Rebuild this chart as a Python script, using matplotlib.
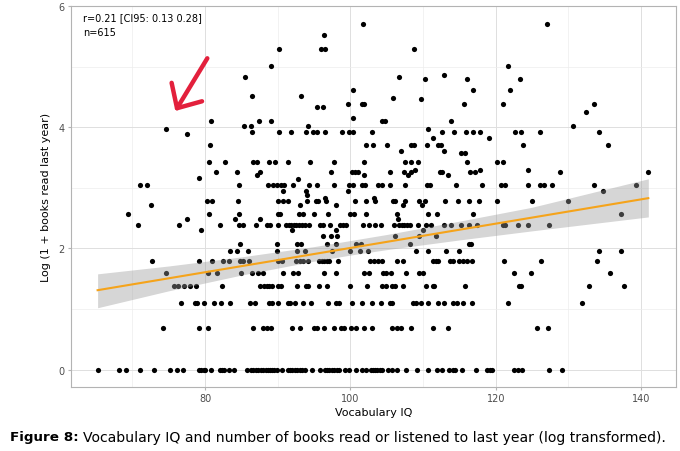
import matplotlib
matplotlib.use("Agg")
import matplotlib.pyplot as plt
from matplotlib.ticker import MultipleLocator

# Vocabulary IQ of each visible respondent, grouped by log(1 + books) level
iq_0 = [65.24, 68.18, 69.05, 71.06, 72.9, 75.1, 76.11, 77.02, 79.09, 79.45, 79.78, 80.0,
        80.78, 81.98, 82.3, 82.66, 83.35, 84.04, 85.83, 86.29, 86.56, 87.02, 87.34, 87.71,
        88.03, 88.35, 88.62, 88.9, 89.22, 89.54, 89.86, 90.55, 91.37, 91.69, 92.01, 92.38,
        92.7, 93.07, 93.39, 93.76, 94.67, 95.82, 96.51, 96.83, 97.1, 97.42, 97.79, 98.11,
        98.48, 99.26, 99.85, 100.77, 101.64, 102.1, 102.79, 103.11, 103.39, 103.71, 104.03,
        104.39, 105.22, 105.67, 106.36, 107.65, 109.2, 110.72, 111.86, 112.55, 113.56,
        114.16, 114.39, 115.3, 117.27, 118.83, 119.2, 119.52, 122.5, 123.0, 123.55, 127.31,
        129.15]
iq_069 = [74.14, 79.18, 80.37, 86.65, 87.94, 88.49, 89.08, 91.92, 93.07, 95.04, 95.36, 96.42,
          97.79, 98.66, 99.12, 100.08, 100.77, 101.83, 102.93, 105.67, 106.36, 106.96, 108.29,
          111.41, 113.38, 125.71, 127.13]
iq_110 = [76.7, 78.63, 78.95, 79.91, 81.2, 82.16, 83.44, 86.19, 86.88, 88.81, 89.17, 90.0,
          91.37, 91.69, 92.38, 93.44, 94.58, 96.87, 98.02, 98.48, 100.27, 101.64, 102.93,
          104.21, 105.45, 105.77, 108.56, 109.02, 109.66, 110.63, 112.09, 112.92, 114.16,
          114.62, 115.53, 116.72, 121.63, 131.81]
iq_138 = [75.7, 76.2, 77.12, 77.94, 78.77, 82.3, 87.57, 88.07, 88.49, 88.85, 89.22, 90.0,
          90.41, 92.61, 93.85, 94.21, 95.64, 96.83, 100.0, 102.24, 104.3, 104.85, 105.77,
          106.13, 107.28, 110.35, 111.31, 111.54, 115.76, 123.23, 123.46, 132.82, 137.7]
iq_160 = [74.6, 80.37, 81.61, 84.91, 86.42, 87.25, 87.94, 90.68, 92.15, 92.84, 96.37, 98.02,
          101.92, 102.56, 104.53, 104.85, 105.58, 107.65, 109.43, 110.03, 122.5, 124.79, 135.7]
iq_179 = [72.71, 79.18, 80.92, 82.43, 83.31, 84.82, 85.28, 85.97, 90.0, 90.55, 92.52, 93.02,
          93.53, 94.12, 95.68, 96.05, 96.42, 96.78, 97.1, 98.25, 102.74, 103.29, 103.8,
          104.39, 106.36, 107.19, 111.41, 111.77, 112.09, 113.7, 114.07, 114.89, 115.44,
          115.99, 116.68, 121.17, 126.21, 133.9]
iq_195 = [83.4, 84.45, 85.87, 89.86, 92.7, 93.8, 97.42, 100.0, 101.28, 102.38, 108.98, 110.72,
          113.15, 114.89, 134.2, 137.2]
iq_208 = [84.82, 89.86, 92.7, 93.25, 96.74, 97.97, 100.77, 101.5, 108.2, 116.36, 116.54]
iq_220 = [96.19, 97.29, 98.16, 106.18, 109.43, 111.77]
iq_231 = [79.45, 91.92, 98.02, 110.03]
iq_239 = [70.74, 76.34, 81.98, 84.68, 85.28, 87.02, 88.49, 88.9, 90.0, 91.14, 91.51, 91.83,
          92.2, 92.56, 92.93, 93.3, 93.76, 94.26, 95.87, 96.28, 97.15, 98.57, 98.98, 99.35,
          101.69, 102.56, 103.39, 104.21, 106.0, 106.73, 107.05, 107.37, 107.74, 108.2,
          109.34, 110.4, 111.04, 112.92, 113.79, 115.21, 116.36, 117.37, 120.94, 121.26,
          123.0, 124.38, 127.31]
iq_249 = [77.57, 84.18, 87.62, 106.59]
iq_257 = [69.32, 80.55, 84.73, 90.0, 90.32, 92.93, 93.44, 94.99, 96.97, 100.0, 100.54, 102.1,
          106.36, 110.72, 111.86, 116.91, 137.2]
iq_271 = [72.58, 93.11, 98.02, 107.28, 109.8]
iq_278 = [80.23, 81.01, 84.59, 90.09, 90.78, 91.37, 94.08, 95.27, 95.59, 96.65, 100.68, 102.1,
          103.39, 105.81, 106.18, 107.51, 109.48, 110.26, 113.01, 114.84, 116.36, 117.64,
          120.11, 125.02, 129.88]
iq_283 = [96.46, 103.25]
iq_288 = [94.08]
iq_294 = [90.7, 93.9, 99.6, 134.7]
iq_305 = [71.1, 72.0, 84.7, 88.7, 89.3, 89.9, 90.5, 90.9, 92.1, 94.3, 95.4, 97.7, 99.8, 100.3,
          101.6, 102.0, 103.8, 104.4, 105.4, 107.5, 110.5, 110.9, 114.5, 118.1, 120.7, 121.3,
          124.4, 126.1, 126.6, 127.8, 133.5, 139.3]
iq_314 = [92.8]
iq_317 = [79.1]
iq_322 = [87.2, 101.9, 107.9, 113.4]
iq_326 = [81.5, 84.4, 87.6, 97.3, 100.2, 100.6, 101.0, 105.5, 107.4, 108.4, 112.3, 112.6,
          116.4, 117.1, 128.8, 141.0]
iq_330 = [108.9, 117.9, 124.5]
iq_343 = [80.6, 82.7, 86.6, 87.1, 88.8, 89.6, 91.4, 94.5, 97.7, 101.9, 107.5, 108.4, 109.3,
          116.1, 120.2, 121.0]
iq_358 = [115.2, 115.8]
iq_361 = [107.0, 112.9]
iq_371 = [80.7, 102.1, 103.1, 105.0, 108.4, 108.8, 110.6, 112.1, 112.4, 123.7, 135.4]
iq_383 = [111.4, 119.1]
iq_389 = [77.5]
iq_393 = [86.5, 90.2, 91.8, 93.9, 94.9, 95.4, 96.5, 98.9, 99.8, 100.4, 103.0, 112.6, 114.2,
          115.9, 116.9, 117.9, 122.7, 123.5, 126.1, 134.2]
iq_397 = [74.6, 110.7]
iq_402 = [85.3, 86.3, 94.1, 130.7]
iq_411 = [80.8, 87.4, 89.0, 104.4, 104.8, 113.8]
iq_416 = [100.3]
iq_426 = [132.4]
iq_433 = [95.4, 96.2]
iq_439 = [99.7, 101.6, 101.8, 115.6, 121.0, 133.5]
iq_446 = [109.7]
iq_449 = [105.8]
iq_451 = [86.4, 93.2]
iq_461 = [100.3, 116.9, 121.9]
iq_479 = [110.3, 116.0, 123.3]
iq_483 = [85.5, 106.7]
iq_487 = [112.9]
iq_501 = [89.1, 121.7]
iq_530 = [90.1, 96.0, 96.5, 108.8]
iq_553 = [96.3]
iq_571 = [101.7, 127.0]

levels = [0.0, 0.69, 1.10, 1.38, 1.60, 1.79, 1.95, 2.08, 2.20, 2.31, 2.39, 2.49, 2.57, 2.71,
          2.78, 2.83, 2.88, 2.94, 3.05, 3.14, 3.17, 3.22, 3.26, 3.30, 3.43, 3.58, 3.61, 3.71,
          3.83, 3.89, 3.93, 3.97, 4.02, 4.11, 4.16, 4.26, 4.33, 4.39, 4.46, 4.49, 4.51, 4.61,
          4.79, 4.83, 4.87, 5.01, 5.30, 5.53, 5.71]
groups = [iq_0, iq_069, iq_110, iq_138, iq_160, iq_179, iq_195, iq_208, iq_220, iq_231, iq_239,
          iq_249, iq_257, iq_271, iq_278, iq_283, iq_288, iq_294, iq_305, iq_314, iq_317, iq_322,
          iq_326, iq_330, iq_343, iq_358, iq_361, iq_371, iq_383, iq_389, iq_393, iq_397, iq_402,
          iq_411, iq_416, iq_426, iq_433, iq_439, iq_446, iq_449, iq_451, iq_461, iq_479, iq_483,
          iq_487, iq_501, iq_530, iq_553, iq_571]

# linear fit and its 95% band
fit_x = [65.2, 141.0]
fit_y = [1.31, 2.83]
band_x = [65.2, 75, 85, 95, 100, 105, 115, 125, 141.0]
band_lo = [1.02, 1.30, 1.56, 1.79, 1.89, 1.98, 2.14, 2.29, 2.52]
band_hi = [1.58, 1.71, 1.86, 2.03, 2.13, 2.23, 2.45, 2.68, 3.15]

x = []
y = []
for lv, g in zip(levels, groups):
    x += g
    y += [lv] * len(g)

fig = plt.figure(figsize=(6.8, 4.52), dpi=100)
ax = fig.add_axes([0.104, 0.142, 0.890, 0.842])

ax.scatter(x, y, s=14, color="black", linewidths=0, zorder=3)
ax.fill_between(band_x, band_lo, band_hi, color="#999999", alpha=0.4, linewidth=0, zorder=4)
ax.plot(fit_x, fit_y, color="#F5A31A", lw=1.5, zorder=5)

ax.set_xlim(61.5, 144.8)
ax.set_ylim(-0.286, 6.0)
ax.xaxis.set_major_locator(MultipleLocator(20))
ax.xaxis.set_minor_locator(MultipleLocator(10))
ax.yaxis.set_major_locator(MultipleLocator(2))
ax.yaxis.set_minor_locator(MultipleLocator(1))
ax.grid(which="major", color="#DEDEDE", lw=0.7, zorder=0)
ax.grid(which="minor", color="#EDEDED", lw=0.5, zorder=0)
ax.set_axisbelow(True)
for s in ax.spines.values():
    s.set_color("#B3B3B3")
    s.set_linewidth(0.8)
ax.tick_params(which="major", length=2.5, color="#B3B3B3", labelcolor="#4D4D4D", labelsize=7, pad=2)
ax.tick_params(which="minor", length=0)

ax.set_xlabel("Vocabulary IQ", fontsize=8, labelpad=3)
ax.set_ylabel("Log (1 + books read last year)", fontsize=8, labelpad=5)

ax.text(0.02, 0.972, "r=0.21 [CI95: 0.13 0.28]", transform=ax.transAxes, fontsize=7, va="center")
ax.text(0.02, 0.933, "n=615", transform=ax.transAxes, fontsize=7, va="center")

ax.annotate("", xy=(75.9, 4.27), xytext=(80.3, 5.14),
            arrowprops=dict(arrowstyle="->,head_length=0.68,head_width=0.64", color="#E3203C",
                            lw=3.2, mutation_scale=20, shrinkA=0, shrinkB=0,
                            capstyle="round", joinstyle="round"))

fig.text(10 / 680, 1 - 438 / 452, "Figure 8:", fontsize=9.7, weight="bold", va="center")
fig.text(83 / 680, 1 - 438 / 452,
         "Vocabulary IQ and number of books read or listened to last year (log transformed).",
         fontsize=10.1, va="center")

fig.savefig("out.png", dpi=100)
